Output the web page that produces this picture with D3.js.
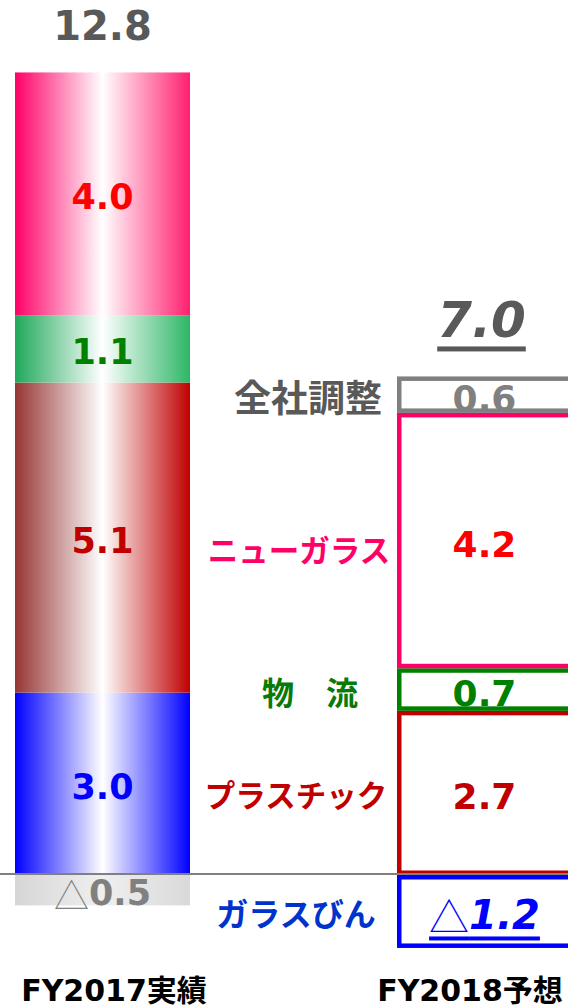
<!DOCTYPE html>
<html><head><meta charset="utf-8">
<script src="https://cdn.jsdelivr.net/npm/d3@7"></script>
<style>html,body{margin:0;padding:0;background:#fff;}svg{display:block;}</style>
</head><body>
<script>
const categories = ["FY2017実績", "FY2018予想"];
const segments = ["ガラスびん", "プラスチック", "物流", "ニューガラス", "全社調整"];
const segmentLabels = ["ガラスびん", "プラスチック", "物　流", "ニューガラス", "全社調整"];
const fy2017 = [3.0, 5.1, 1.1, 4.0, -0.5];
const fy2018 = [-1.2, 2.7, 0.7, 4.2, 0.6];
const totals = [12.8, 7.0];
const labels2017 = ["3.0", "5.1", "1.1", "4.0", "△0.5"];
const labels2018 = ["△1.2", "2.7", "0.7", "4.2", "0.6"];

const W = 568, H = 1008;
const svg = d3.select("body").append("svg").attr("width", W).attr("height", H);

const x = d3.scaleBand().domain(categories).range([15, 572]).paddingInner(0.5419).paddingOuter(0);
const y = d3.scaleLinear().domain([-2, 14]).range([875 + 2 * 60.8, 875 - 14 * 60.8]);

const gradStops = {
  "ガラスびん": ["#0000ff", "#0000ff"],
  "プラスチック": ["#963634", "#c00000"],
  "物流": ["#1fa85a", "#2db766"],
  "ニューガラス": ["#ff0066", "#ff1f6f"],
  "全社調整": ["#d6d6d6", "#d9d9d9"]
};
const leftText = { "ガラスびん": "#0000ff", "プラスチック": "#c00000", "物流": "#008000", "ニューガラス": "#ff0000", "全社調整": "#808080" };
const rightStroke = { "ガラスびん": "#0000ff", "プラスチック": "#c00000", "物流": "#008000", "ニューガラス": "#ff0066", "全社調整": "#808080" };
const rightText = { "ガラスびん": "#0000ff", "プラスチック": "#c00000", "物流": "#008000", "ニューガラス": "#ff0000", "全社調整": "#808080" };
const segLabelColor = { "ガラスびん": "#0033cc", "プラスチック": "#c00000", "物流": "#077a07", "ニューガラス": "#ff0066", "全社調整": "#595959" };
const segLabelX = { "ガラスびん": 296, "プラスチック": 296, "物流": 310, "ニューガラス": 299, "全社調整": 308 };
const segLabelSize = { "ガラスびん": 32, "プラスチック": 30.5, "物流": 32, "ニューガラス": 30.5, "全社調整": 37 };

const defs = svg.append("defs");
segments.forEach((s, i) => {
  const g = defs.append("linearGradient").attr("id", "g" + i).attr("x1", "0").attr("x2", "1").attr("y1", "0").attr("y2", "0");
  const [a, b] = gradStops[s];
  const mid = s === "全社調整" ? "#efefef" : "#ffffff";
  g.append("stop").attr("offset", "0%").attr("stop-color", a);
  g.append("stop").attr("offset", "50%").attr("stop-color", mid);
  g.append("stop").attr("offset", "100%").attr("stop-color", b);
});

function stack(vals) {
  let pos = 0, neg = 0;
  return vals.map((v, i) => {
    let y0, y1;
    if (v >= 0) { y0 = pos; y1 = pos + v; pos = y1; }
    else { y0 = neg; y1 = neg + v; neg = y1; }
    return { seg: segments[i], i, v, lo: Math.min(y0, y1), hi: Math.max(y0, y1) };
  });
}
const s17 = stack(fy2017), s18 = stack(fy2018);

const numFont = "'DejaVu Sans', Verdana, sans-serif";
const jpFont = "'Noto Sans CJK JP', sans-serif";

// Left bar (gradient fills)
const bx0 = x(categories[0]), bw = x.bandwidth();
svg.append("g").selectAll("rect").data(s17).join("rect")
  .attr("x", bx0).attr("width", bw)
  .attr("y", d => y(d.hi)).attr("height", d => y(d.lo) - y(d.hi))
  .attr("fill", d => `url(#g${d.i})`);

// Right bar (outlined boxes, extending past the right edge)
const bx1 = x(categories[1]);
const sw = 4.5;
svg.append("g").selectAll("rect").data(s18).join("rect")
  .attr("x", bx1 + sw / 2).attr("width", bw + 10)
  .attr("y", d => y(d.hi) + sw / 2).attr("height", d => y(d.lo) - y(d.hi) - sw)
  .attr("fill", "none").attr("stroke", d => rightStroke[d.seg]).attr("stroke-width", sw);

// baseline
svg.append("line").attr("x1", 0).attr("x2", W).attr("y1", y(0) - 1).attr("y2", y(0) - 1)
  .attr("stroke", "#808080").attr("stroke-width", 2);

function valueText(g, str, cx, cy, color, size, italic, underline) {
  const t = g.append("text").attr("x", cx).attr("y", cy).attr("text-anchor", "middle")
    .attr("dominant-baseline", "central").attr("fill", color)
    .attr("font-family", numFont).attr("font-weight", "bold").attr("font-size", size)
    .attr("font-style", italic ? "italic" : "normal");
  if (underline) t.attr("text-decoration", "underline");
  if (str.startsWith("△")) {
    t.append("tspan").attr("font-family", jpFont).attr("font-weight", "300").attr("font-style", "normal").text("△");
    t.append("tspan").text(str.slice(1));
  } else t.text(str);
  return t;
}

const tg = svg.append("g");
s17.forEach((d, i) => {
  valueText(tg, labels2017[i], bx0 + bw / 2, (y(d.hi) + y(d.lo)) / 2 + 3, leftText[d.seg], 35, false, false);
});
s18.forEach((d, i) => {
  const neg = d.v < 0;
  valueText(tg, labels2018[i], bx1 + bw / 2, (y(d.hi) + y(d.lo)) / 2 + 4, rightText[d.seg], neg ? 40 : 36, neg, neg);
});

// totals
const top17 = d3.max(s17, d => d.hi), top18 = d3.max(s18, d => d.hi);
valueText(tg, totals[0].toFixed(1), bx0 + bw / 2, y(top17) - 46, "#595959", 40, false, false);
valueText(tg, totals[1].toFixed(1), bx1 + bw / 2 - 3, y(top18) - 56, "#595959", 50, true, true);

// segment labels
s18.forEach((d, i) => {
  tg.append("text").attr("x", segLabelX[d.seg]).attr("y", (y(d.hi) + y(d.lo)) / 2 + (d.seg === "ニューガラス" ? 8 : 1))
    .attr("text-anchor", "middle").attr("dominant-baseline", "central")
    .attr("fill", segLabelColor[d.seg]).attr("font-family", jpFont).attr("font-weight", "bold")
    .attr("font-size", segLabelSize[d.seg])
    .text(segmentLabels[i]);
});

// category labels
const catX = [114, 470];
categories.forEach((c, i) => {
  tg.append("text").attr("x", catX[i]).attr("y", 1001).attr("text-anchor", "middle")
    .attr("fill", "#000")
    .attr("font-family", numFont + ", " + jpFont).attr("font-weight", "bold").attr("font-size", 30)
    .text(c);
});
</script>
</body></html>
